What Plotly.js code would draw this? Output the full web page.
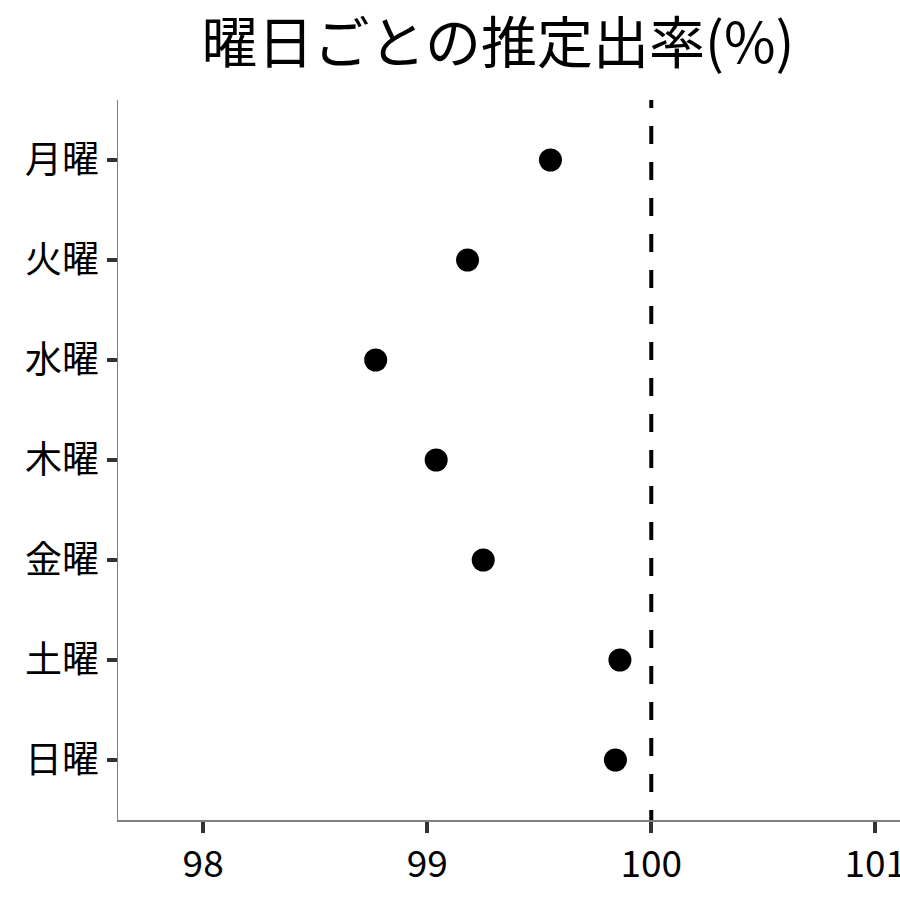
<!DOCTYPE html>
<html>
<head>
<meta charset="utf-8">
<script src="https://cdn.plot.ly/plotly-3.0.1.min.js"></script>
<style>html,body{margin:0;padding:0;background:#fff;}#chart{width:900px;height:900px;}</style>
</head>
<body>
<div id="chart"></div>
<script>
const days = ["月曜", "火曜", "水曜", "木曜", "金曜", "土曜", "日曜"];
const rates = [99.55, 99.18, 98.77, 99.04, 99.25, 99.86, 99.84];
const refValue = 100;
const xTicks = [98, 99, 100, 101];

const font = "Noto Sans CJK JP";

// dash pattern: short leading dash so the phase matches, then 18px on / 18px off
const dashParts = ["8px", "18px"];
for (let i = 0; i < 42; i++) dashParts.push("18px");
const dashPattern = dashParts.join(",");

const trace = {
  type: "scatter",
  mode: "markers",
  x: rates,
  y: days,
  marker: {color: "#000000", size: 23},
  hoverinfo: "x+y"
};

const layout = {
  width: 900,
  height: 900,
  margin: {l: 118, r: 0, t: 100, b: 80},
  paper_bgcolor: "#ffffff",
  plot_bgcolor: "#ffffff",
  showlegend: false,
  font: {family: font, color: "#000000"},
  title: {
    text: "曜日ごとの推定出率(%)",
    font: {family: font, size: 56, color: "#000000"},
    x: 0.486, xanchor: "center", xref: "paper",
    y: 0.952, yanchor: "middle"
  },
  xaxis: {
    range: [97.62, 101.11],
    tickvals: xTicks,
    ticktext: xTicks.map(String),
    showgrid: false,
    zeroline: false,
    showline: true,
    linecolor: "#808080",
    linewidth: 1.5,
    ticks: "outside",
    ticklen: 11,
    tickwidth: 4,
    tickcolor: "#333333",
    ticklabelstandoff: 0,
    ticklabeloverflow: "allow",
    tickfont: {family: font, size: 37, color: "#000000"}
  },
  yaxis: {
    type: "category",
    categoryorder: "array",
    categoryarray: days,
    range: [6.6, -0.6],
    showgrid: false,
    zeroline: false,
    showline: true,
    linecolor: "#808080",
    linewidth: 1.5,
    ticks: "outside",
    ticklen: 10,
    tickwidth: 4,
    tickcolor: "#333333",
    ticklabelstandoff: 0,
    tickfont: {family: font, size: 37, color: "#000000"}
  },
  shapes: [{
    type: "line",
    xref: "x", yref: "paper",
    x0: refValue, x1: refValue, y0: 1, y1: 0,
    line: {color: "#000000", width: 4, dash: dashPattern},
    layer: "above"
  }]
};

Plotly.newPlot("chart", [trace], layout, {displayModeBar: false, staticPlot: true});
</script>
</body>
</html>
